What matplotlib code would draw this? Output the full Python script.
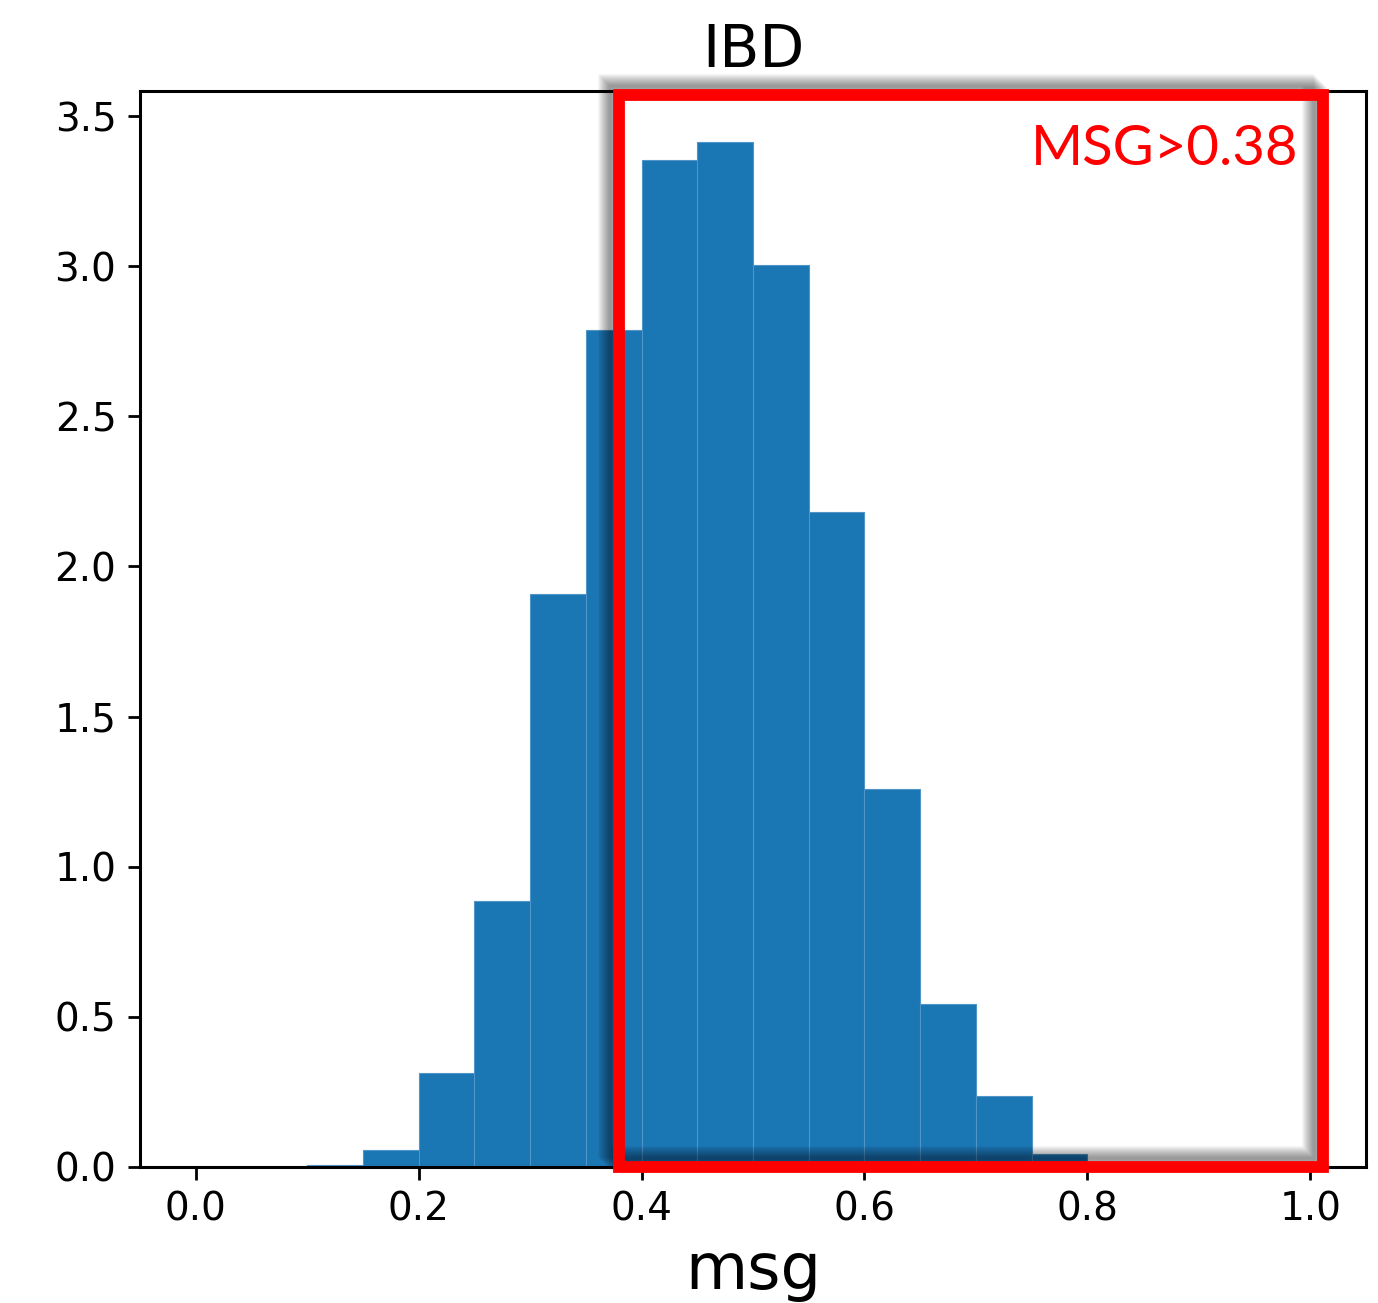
import matplotlib
matplotlib.use("Agg")
import matplotlib.pyplot as plt
from matplotlib.patches import Rectangle
from matplotlib.transforms import ScaledTranslation
import numpy as np

# Histogram data (density), bins of width 0.05 from 0 to 1
bin_edges = [0.0, 0.05, 0.1, 0.15, 0.2, 0.25, 0.3, 0.35, 0.4, 0.45, 0.5,
             0.55, 0.6, 0.65, 0.7, 0.75, 0.8, 0.85, 0.9, 0.95, 1.0]
density = [0.0, 0.0, 0.007, 0.057, 0.313, 0.887, 1.907, 2.787, 3.353, 3.413,
           3.003, 2.183, 1.26, 0.543, 0.237, 0.043, 0.0, 0.0, 0.0, 0.0]
title = "IBD"
xlabel = "msg"
annot = "MSG>0.38"
threshold = 0.38
box_right = 1.011
box_top = 3.569

fig = plt.figure(figsize=(13.78, 13.03), dpi=100)
ax = fig.add_axes([0.1016, 0.1044, 0.8897, 0.8258])

left = np.array(bin_edges[:-1])
ax.hist(left, bins=bin_edges, weights=density, color="#1b76b4",
        edgecolor="#4f95c8", linewidth=0.8)

ax.set_title(title, fontsize=42, pad=17)
ax.set_xlabel(xlabel, fontsize=46, labelpad=8)
ax.set_xticks([0.0, 0.2, 0.4, 0.6, 0.8, 1.0])
ax.set_yticks([0.0, 0.5, 1.0, 1.5, 2.0, 2.5, 3.0, 3.5])
ax.tick_params(labelsize=28, length=9, width=2, pad=8)
for s in ax.spines.values():
    s.set_linewidth(2.2)

# soft shadow (offset up-left, blurred)
for off in range(2, 16):
    r = Rectangle((threshold, 0), box_right - threshold, box_top, fill=False,
                  edgecolor="black", linewidth=8.5, alpha=0.04, clip_on=False, zorder=4)
    r.set_transform(ax.transData + ScaledTranslation(-off / 100, off / 100, fig.dpi_scale_trans))
    ax.add_patch(r)

rect = Rectangle((threshold, 0), box_right - threshold, box_top, fill=False,
                 edgecolor="#ff0000", linewidth=8.5, clip_on=False, zorder=5)
ax.add_patch(rect)

ax.text(0.9895, 3.475, annot, color="#ff0000", fontsize=40.5, family="Lato",
        ha="right", va="top", zorder=6)

fig.savefig("out.png", dpi=100)
